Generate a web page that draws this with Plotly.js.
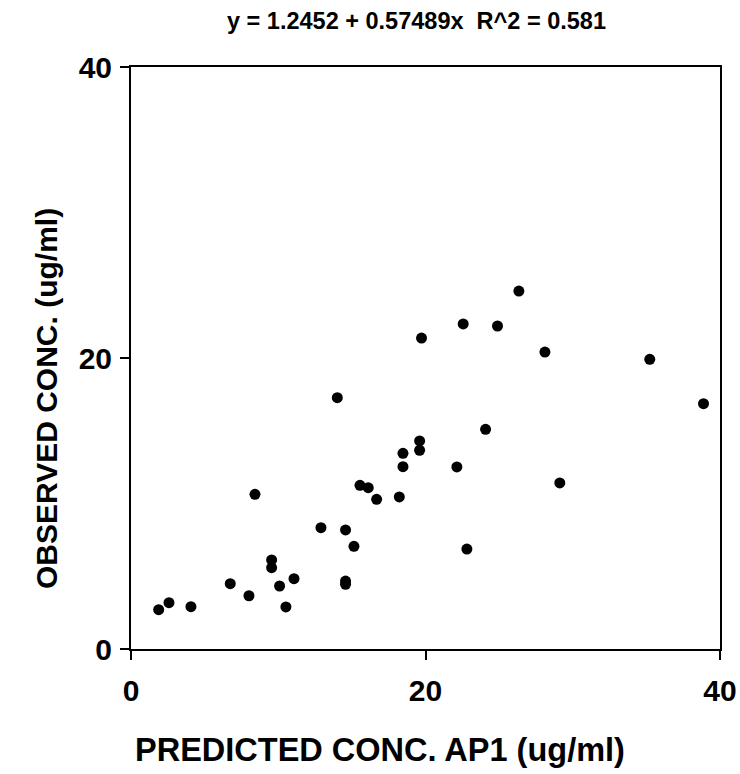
<!DOCTYPE html>
<html>
<head>
<meta charset="utf-8">
<script src="https://cdn.plot.ly/plotly-3.0.1.min.js"></script>
<style>html,body{margin:0;padding:0;background:#fff;}#chart{width:740px;height:774px;}</style>
</head>
<body>
<div id="chart"></div>
<script>
const predicted = [1.88, 2.58, 4.07, 6.74, 8.01, 8.42, 9.55, 9.55, 10.09, 10.52, 11.07, 12.90, 14.01, 14.57, 14.57, 14.57, 15.14, 15.55, 16.11, 16.68, 18.22, 18.47, 18.47, 19.60, 19.60, 19.73, 22.13, 22.56, 22.81, 24.08, 24.89, 26.34, 28.11, 29.12, 35.23, 38.88];
const observed  = [2.70, 3.18, 2.91, 4.49, 3.66, 10.63, 6.12, 5.59, 4.33, 2.89, 4.83, 8.34, 17.27, 8.18, 4.67, 4.45, 7.06, 11.25, 11.09, 10.29, 10.45, 12.53, 13.45, 14.30, 13.66, 21.37, 12.51, 22.34, 6.87, 15.10, 22.20, 24.60, 20.41, 11.41, 19.91, 16.86];
const tickValues = [0, 20, 40];
const tickLabels = ["0", "20", "40"];
const chartTitle = "y = 1.2452 + 0.57489x  R^2 = 0.581";
const xTitle = "PREDICTED CONC. AP1 (ug/ml)";
const yTitle = "OBSERVED CONC. (ug/ml)";

const fam = "Liberation Sans, Arial, sans-serif";
const trace = {
  x: predicted, y: observed, type: "scatter", mode: "markers",
  marker: {color: "#000", size: 11, line: {width: 0}},
  hoverinfo: "skip", showlegend: false
};
const axisCommon = {
  range: [0, 40], tickmode: "array", tickvals: tickValues, ticktext: tickLabels,
  ticks: "outside", ticklen: 9, tickwidth: 2, tickcolor: "#000",
  showline: true, linewidth: 2, linecolor: "#000", mirror: true,
  showgrid: false, zeroline: false, fixedrange: true,
  tickfont: {family: fam, size: 30, color: "#000", weight: "bold"}
};
const layout = {
  width: 740, height: 774,
  margin: {l: 131, r: 20, t: 67, b: 125, pad: 0},
  paper_bgcolor: "#fff", plot_bgcolor: "#fff",
  title: {text: chartTitle, x: 0.4847, xref: "paper", xanchor: "center", y: 1 - 21/774, yref: "container", yanchor: "middle",
          font: {family: fam, size: 23.5, color: "#000", weight: "bold"}},
  xaxis: Object.assign({}, axisCommon, {ticklabelstandoff: 5}),
  yaxis: Object.assign({}, axisCommon, {ticklabelstandoff: 2}),
  annotations: [
    {text: xTitle, xref: "paper", yref: "paper", x: 0.4228, y: -0.1735, xanchor: "center", yanchor: "middle",
     showarrow: false, font: {family: fam, size: 32.5, color: "#000", weight: "bold"}},
    {text: yTitle, xref: "paper", yref: "paper", x: -0.1426, y: 0.4296, xanchor: "center", yanchor: "middle",
     textangle: -90, showarrow: false, font: {family: fam, size: 30, color: "#000", weight: "bold"}}
  ]
};
Plotly.newPlot("chart", [trace], layout, {staticPlot: true, displayModeBar: false});
</script>
</body>
</html>
